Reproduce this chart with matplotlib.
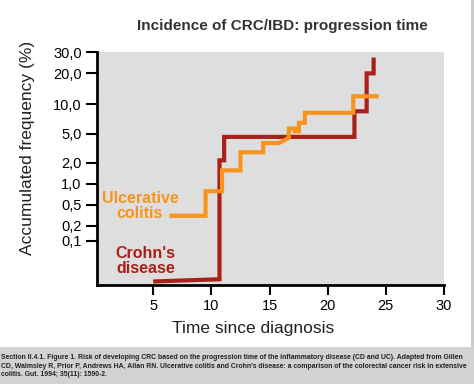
import numpy as np
import matplotlib
matplotlib.use("Agg")
import matplotlib.pyplot as plt
from matplotlib.patches import Rectangle

# Data (time in years, accumulated frequency in %)
crohn_time = [5.0, 10.7, 10.7, 11.1, 11.1, 22.3, 22.3, 23.35, 23.35, 23.95, 23.95]
crohn_freq = [0.008, 0.013, 2.15, 2.15, 4.5, 4.5, 8.5, 8.5, 20.0, 20.0, 27.0]

uc_time = [6.4, 9.5, 9.5, 10.92, 10.92, 12.5, 12.5, 14.45, 14.45, 15.8, 16.66, 16.66,
           17.18, 17.18, 17.53, 17.53, 18.04, 18.04, 22.2, 22.2, 24.4]
uc_freq = [0.31, 0.31, 0.78, 0.78, 1.55, 1.55, 2.77, 2.77, 3.7, 3.7, 4.37, 5.64,
           5.64, 5.28, 5.28, 6.46, 6.46, 8.2, 8.2, 12.0, 12.0]

y_ticks = [0.1, 0.2, 0.5, 1, 2, 5, 10, 20, 30]
y_tick_labels = ["0,1", "0,2", "0,5", "1,0", "2,0", "5,0", "10,0", "20,0", "30,0"]
x_ticks = [5, 10, 15, 20, 25, 30]

title = "Incidence of CRC/IBD: progression time"
caption = ("Section II.4.1. Figure 1. Risk of developing CRC based on the progression time of the inflammatory disease (CD and UC). Adapted from Gillen\n"
           "CD, Walmsley R, Prior P, Andrews HA, Allan RN. Ulcerative colitis and Crohn's disease: a comparison of the colorectal cancer risk in extensive\n"
           "colitis. Gut. 1994; 35(11): 1590-2.")

# The y axis of the original is irregular: tick values sit at these heights (px above the x axis)
SCALE_TICKS = np.array([0.1, 0.2, 0.5, 1, 2, 5, 10, 20, 30])
SCALE_POS = np.array([44, 59, 80, 101, 122, 151, 180, 211, 232.3])


def forward(v):
    v = np.asarray(v, dtype=float)
    high = np.interp(np.log10(np.clip(v, 0.1, None)), np.log10(SCALE_TICKS), SCALE_POS)
    return np.where(v < 0.1, v / 0.1 * SCALE_POS[0], high)


def inverse(p):
    p = np.asarray(p, dtype=float)
    high = 10 ** np.interp(p, SCALE_POS, np.log10(SCALE_TICKS))
    return np.where(p < SCALE_POS[0], p / SCALE_POS[0] * 0.1, high)


RED = "#a8201a"
ORANGE = "#f7941d"

plt.rcParams["font.family"] = ["Liberation Sans", "DejaVu Sans"]

fig = plt.figure(figsize=(4.74, 3.84), dpi=100)
ax = fig.add_axes([97 / 474, 1 - 285 / 384, 347 / 474, 233 / 384])
ax.set_facecolor("#dedede")

ax.set_yscale("function", functions=(forward, inverse))
ax.set_ylim(0, 30)
ax.set_xlim(0.17, 30)

ax.plot(crohn_time, crohn_freq, color=RED, lw=3, solid_joinstyle="miter", solid_capstyle="butt")
ax.plot(uc_time, uc_freq, color=ORANGE, lw=3, solid_joinstyle="miter", solid_capstyle="butt")

ax.set_yticks(y_ticks)
ax.set_yticklabels(y_tick_labels)
ax.set_xticks(x_ticks)
ax.tick_params(axis="both", direction="out", width=1.5, labelsize=10.5, colors="black")
ax.tick_params(axis="y", length=8, pad=3)
ax.tick_params(axis="x", length=7, pad=3)
ax.minorticks_off()

for side in ["top", "right"]:
    ax.spines[side].set_visible(False)
for side in ["left", "bottom"]:
    ax.spines[side].set_linewidth(2)
    ax.spines[side].set_color("black")

ax.text(0.124, 0.339, "Ulcerative\ncolitis", transform=ax.transAxes, ha="center", va="center",
        color=ORANGE, fontsize=11.5, fontweight="bold", linespacing=0.95)
ax.text(0.14, 0.103, "Crohn's\ndisease", transform=ax.transAxes, ha="center", va="center",
        color=RED, fontsize=11.5, fontweight="bold", linespacing=0.95)

fig.text(282.5 / 474, 1 - 26 / 384, title, ha="center", va="center",
         fontsize=11, fontweight="bold", color="#333333")
fig.text(28 / 474, 1 - 147.5 / 384, "Accumulated frequency (%)", rotation=90,
         ha="center", va="center", fontsize=12.5, color="#222222")
fig.text(253 / 474, 1 - 328 / 384, "Time since diagnosis", ha="center", va="center",
         fontsize=12.5, color="#222222")

# caption band and right border of the slide
fig.patches.append(Rectangle((0, 0), 1, 37 / 384, transform=fig.transFigure,
                             facecolor="#d2d2d2", edgecolor="none", zorder=0))
fig.patches.append(Rectangle((471 / 474, 37 / 384), 3 / 474, 1, transform=fig.transFigure,
                             facecolor="#cccccc", edgecolor="none", zorder=0))
fig.text(0.002, 1 - 366 / 384, caption, ha="left", va="center", fontsize=4.95,
         fontweight="bold", color="#222222", linespacing=1.3)

fig.savefig("out.png", dpi=100)
